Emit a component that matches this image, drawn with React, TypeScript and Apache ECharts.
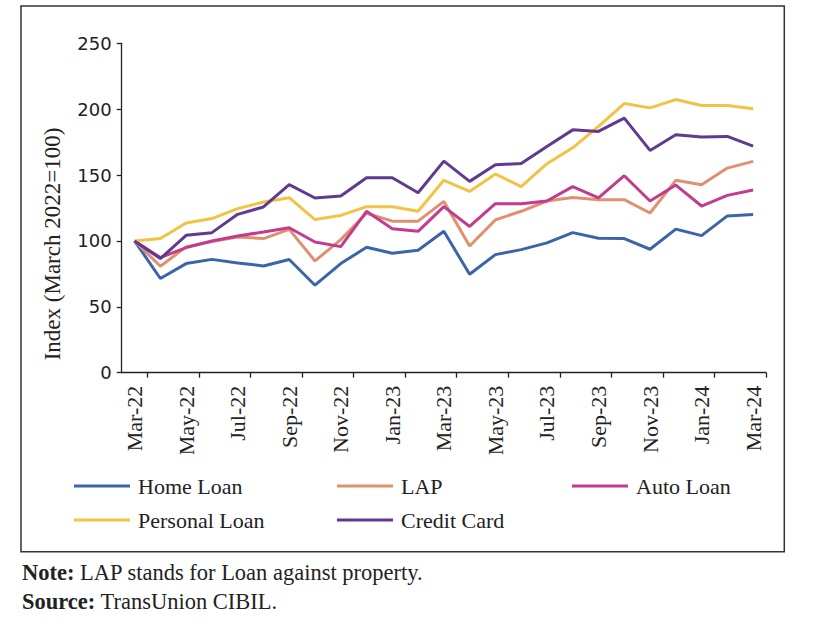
import React, { useEffect, useRef } from "react";
import * as echarts from "echarts";

const months = [
  "Mar-22", "Apr-22", "May-22", "Jun-22", "Jul-22", "Aug-22", "Sep-22", "Oct-22", "Nov-22", "Dec-22",
  "Jan-23", "Feb-23", "Mar-23", "Apr-23", "May-23", "Jun-23", "Jul-23", "Aug-23", "Sep-23", "Oct-23",
  "Nov-23", "Dec-23", "Jan-24", "Feb-24", "Mar-24",
];

const homeLoan = [100, 71.5, 82.8, 86, 83.3, 81, 85.9, 66.4, 82.8, 95.2, 90.7, 92.9, 107.3, 74.7, 89.6, 93.4, 98.5, 106.3, 102, 101.8, 93.7, 109, 104, 119, 120];
const lap = [100, 80.8, 95.5, 99.5, 103, 101.8, 108.8, 84.8, 101, 121, 115, 115, 130, 96.2, 116, 122.5, 130.3, 133, 131.3, 131.3, 121.2, 146, 142.7, 155.3, 160.4];
const autoLoan = [100, 87.4, 95, 100, 103.8, 106.8, 110, 99.2, 95.7, 122.5, 109.3, 107.3, 126, 111, 128.3, 128.3, 130.3, 141.2, 132.6, 149.5, 130.3, 142.4, 126.5, 134.6, 138.6];
const personalLoan = [100, 101.8, 113.6, 117, 124.5, 129.5, 132.8, 116.2, 119.4, 126, 126, 122.5, 146, 137.6, 150.8, 141.2, 158.6, 170.7, 186.9, 204.3, 201, 207.3, 202.8, 202.8, 200.3];
const creditCard = [100, 86.6, 104.3, 106.3, 120.2, 125.8, 142.7, 132.6, 134.1, 148, 148, 136.6, 160.6, 145.2, 157.8, 158.8, 171.7, 184.3, 183.1, 193.2, 168.7, 180.6, 178.8, 179.3, 172];

const seriesNames = ["Home Loan", "LAP", "Auto Loan", "Personal Loan", "Credit Card"];
const seriesData = [homeLoan, lap, autoLoan, personalLoan, creditCard];
const seriesColors = ["#3c64a8", "#e0906e", "#c23b8e", "#f2c244", "#5f3a8f"];
const legendPos = [
  { left: 74, top: 475 },
  { left: 337, top: 475 },
  { left: 572, top: 475 },
  { left: 74, top: 509 },
  { left: 337, top: 509 },
];

const yTicks = { min: 0, max: 250, interval: 50 };
const yTitle = "Index (March 2022=100)";
const noteText = "LAP stands for Loan against property.";
const sourceText = "TransUnion CIBIL.";

const SERIF = "'Liberation Serif', 'DejaVu Serif', serif";
const SANS = "'DejaVu Sans', sans-serif";

export default function App() {
  const ref = useRef<HTMLDivElement>(null);

  useEffect(() => {
    if (!ref.current) return;
    const chart = echarts.init(ref.current, null, { renderer: "svg" });
    const option: any = {
      animation: false,
      backgroundColor: "#ffffff",
      grid: { left: 121.7, right: 58, top: 43.3, bottom: 261.3, containLabel: false },
      xAxis: {
        type: "category",
        data: months,
        boundaryGap: true,
        axisLine: { show: true, lineStyle: { color: "#222", width: 1.3 } },
        axisTick: {
          show: true,
          length: 5,
          interval: (i: number) => i % 2 === 1,
          lineStyle: { color: "#222", width: 1.3 },
        },
        axisLabel: {
          interval: 1,
          rotate: 90,
          margin: 13,
          fontFamily: SERIF,
          fontSize: 22,
          color: "#222",
        },
        splitLine: { show: false },
      },
      yAxis: {
        type: "value",
        min: yTicks.min,
        max: yTicks.max,
        interval: yTicks.interval,
        axisLine: { show: true, lineStyle: { color: "#222", width: 1.3 } },
        axisTick: { show: true, length: 5, lineStyle: { color: "#222", width: 1.3 } },
        axisLabel: { margin: 10, fontFamily: SANS, fontSize: 18, color: "#222" },
        splitLine: { show: false },
      },
      legend: seriesNames.map((n, i) => ({
        data: [n],
        left: legendPos[i].left,
        top: legendPos[i].top,
        padding: 0,
        itemWidth: 56,
        itemHeight: 3,
        icon: "rect",
        textStyle: { fontFamily: SERIF, fontSize: 22, color: "#222", padding: [0, 0, 0, 3] },
      })),
      series: seriesNames.map((n, i) => ({
        name: n,
        type: "line",
        data: seriesData[i],
        symbol: "none",
        lineStyle: { color: seriesColors[i], width: 3 },
        itemStyle: { color: seriesColors[i] },
        z: 2 + i,
      })),
      graphic: [
        {
          type: "rect",
          shape: { x: 21, y: 6, width: 763.3, height: 545.7 },
          style: { fill: "none", stroke: "#333", lineWidth: 1.5 },
          silent: true,
        },
        {
          type: "text",
          x: 52.7,
          y: 244,
          rotation: Math.PI / 2,
          style: {
            text: yTitle,
            font: `23px ${SERIF}`,
            fill: "#222",
            align: "center",
            verticalAlign: "middle",
          },
        },
        {
          type: "text",
          x: 22,
          y: 572,
          style: {
            text: `{b|Note:} ${noteText}`,
            font: `22.5px ${SERIF}`,
            fill: "#222",
            verticalAlign: "middle",
            rich: { b: { fontFamily: SERIF, fontSize: 22.5, fontWeight: "bold", fill: "#222" } },
          },
        },
        {
          type: "text",
          x: 22,
          y: 601,
          style: {
            text: `{b|Source:} ${sourceText}`,
            font: `22.5px ${SERIF}`,
            fill: "#222",
            verticalAlign: "middle",
            rich: { b: { fontFamily: SERIF, fontSize: 22.5, fontWeight: "bold", fill: "#222" } },
          },
        },
      ],
    };
    chart.setOption(option);
    return () => chart.dispose();
  }, []);

  return (
    <div
      ref={ref}
      style={{ position: "fixed", left: 0, top: 0, width: 824, height: 634, background: "#fff" }}
    />
  );
}
